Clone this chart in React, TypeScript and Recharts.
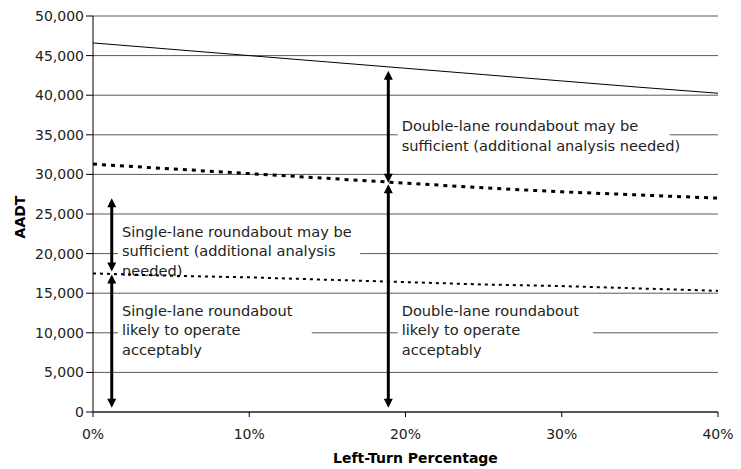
import React from 'react';
import {
  LineChart,
  Line,
  XAxis,
  YAxis,
  CartesianGrid,
  ReferenceArea,
  ReferenceLine,
} from 'recharts';

// left-turn percentage (x)
const leftTurnPct = [0, 5, 10, 15, 20, 25, 30, 35, 40];
// upper limit: double-lane
const doubleLaneUpper = [46600, 45800, 45000, 44200, 43400, 42600, 41800, 41000, 40250];
// double-lane "likely" limit
const doubleLaneLikely = [31300, 30700, 30100, 29500, 28900, 28300, 27800, 27400, 27000];
// single-lane "likely" limit
const singleLaneLikely = [17500, 17200, 17000, 16700, 16400, 16100, 15900, 15600, 15300];

const xTicks = [0, 10, 20, 30, 40];
const yTicks = [0, 5000, 10000, 15000, 20000, 25000, 30000, 35000, 40000, 45000, 50000];

const data = leftTurnPct.map((p, i) => ({
  pct: p,
  upper: doubleLaneUpper[i],
  dbl: doubleLaneLikely[i],
  sgl: singleLaneLikely[i],
}));

// double-headed arrows (x in %, y in AADT)
const arrows = [
  { x: 1.2, from: 27000, to: 17750 },
  { x: 1.2, from: 17350, to: 550 },
  { x: 18.9, from: 43100, to: 28950 },
  { x: 18.9, from: 28750, to: 550 },
];

// text notes with white backing box
const notes = [
  {
    x1: 19.5, x2: 36.9, y1: 32700, y2: 37200,
    lines: ['Double-lane roundabout may be', 'sufficient (additional analysis needed)'],
  },
  {
    x1: 1.6, x2: 17.1, y1: 16600, y2: 23900,
    lines: ['Single-lane roundabout may be', 'sufficient (additional analysis', 'needed)'],
  },
  {
    x1: 1.6, x2: 14.0, y1: 6600, y2: 13900,
    lines: ['Single-lane roundabout', 'likely to operate', 'acceptably'],
  },
  {
    x1: 19.5, x2: 32.0, y1: 6600, y2: 13900,
    lines: ['Double-lane roundabout', 'likely to operate', 'acceptably'],
  },
];

const FONT = '"DejaVu Sans", Verdana, sans-serif';

function Arrow(props: any) {
  const { x1, y1, x2, y2 } = props;
  const top = Math.min(y1, y2);
  const bot = Math.max(y1, y2);
  const hl = 9;
  const hw = 4.5;
  return (
    <g>
      <line x1={x1} y1={top + hl - 1} x2={x1} y2={bot - hl + 1} stroke="#000" strokeWidth={3} />
      <polygon points={`${x1},${top} ${x1 - hw},${top + hl} ${x1 + hw},${top + hl}`} fill="#000" />
      <polygon points={`${x1},${bot} ${x1 - hw},${bot - hl} ${x1 + hw},${bot - hl}`} fill="#000" />
    </g>
  );
}

function noteLabel(lines: string[]) {
  return (props: any) => {
    const vb = props.viewBox || {};
    return (
      <text x={vb.x + 4} y={vb.y + 14} fontFamily={FONT} fontSize={14.6} fill="#222">
        {lines.map((l, i) => (
          <tspan key={i} x={vb.x + 4} dy={i === 0 ? 0 : 19.5}>
            {l}
          </tspan>
        ))}
      </text>
    );
  };
}

export default function App() {
  return (
    <div style={{ position: 'absolute', left: 0, top: 0, background: '#fff' }}>
      <LineChart
        width={741}
        height={469}
        data={data}
        margin={{ top: 16, right: 23, bottom: 0, left: 0 }}
      >
        <CartesianGrid horizontal vertical={false} stroke="#5a5a5a" strokeWidth={1} />
        <XAxis
          dataKey="pct"
          type="number"
          domain={[0, 40]}
          ticks={xTicks}
          tickFormatter={(v) => `${v}%`}
          height={57}
          stroke="#000"
          tickSize={5}
          tickMargin={12}
          tick={{ fill: '#222', fontSize: 14, fontFamily: FONT }}
          label={{
            value: 'Left-Turn Percentage',
            position: 'insideBottom',
            offset: 6,
            dx: 10,
            style: { fontWeight: 'bold', fontSize: 14, fontFamily: FONT, fill: '#000' },
          }}
        />
        <YAxis
          type="number"
          domain={[0, 50000]}
          ticks={yTicks}
          width={93}
          stroke="#000"
          tickSize={7}
          tickFormatter={(v) => v.toLocaleString('en-US')}
          tick={{ fill: '#222', fontSize: 14, fontFamily: FONT }}
          label={{
            value: 'AADT',
            angle: -90,
            position: 'insideLeft',
            offset: 20,
            dy: 3,
            style: { fontWeight: 'bold', fontSize: 14, fontFamily: FONT, fill: '#000', textAnchor: 'middle' },
          }}
        />
        {notes.map((n, i) => (
          <ReferenceArea
            key={i}
            x1={n.x1}
            x2={n.x2}
            y1={n.y1}
            y2={n.y2}
            fill="#fff"
            fillOpacity={1}
            stroke="none"
            label={noteLabel(n.lines)}
          />
        ))}
        <Line type="linear" dataKey="upper" stroke="#000" strokeWidth={1} dot={false} isAnimationActive={false} />
        <Line
          type="linear"
          dataKey="dbl"
          stroke="#000"
          strokeWidth={3}
          strokeDasharray="4 5"
          dot={false}
          isAnimationActive={false}
        />
        <Line
          type="linear"
          dataKey="sgl"
          stroke="#000"
          strokeWidth={2}
          strokeDasharray="3 4"
          dot={false}
          isAnimationActive={false}
        />
        {arrows.map((a, i) => (
          <ReferenceLine
            key={i}
            segment={[
              { x: a.x, y: a.from },
              { x: a.x, y: a.to },
            ]}
            shape={(p: any) => <Arrow {...p} />}
          />
        ))}
      </LineChart>
    </div>
  );
}
